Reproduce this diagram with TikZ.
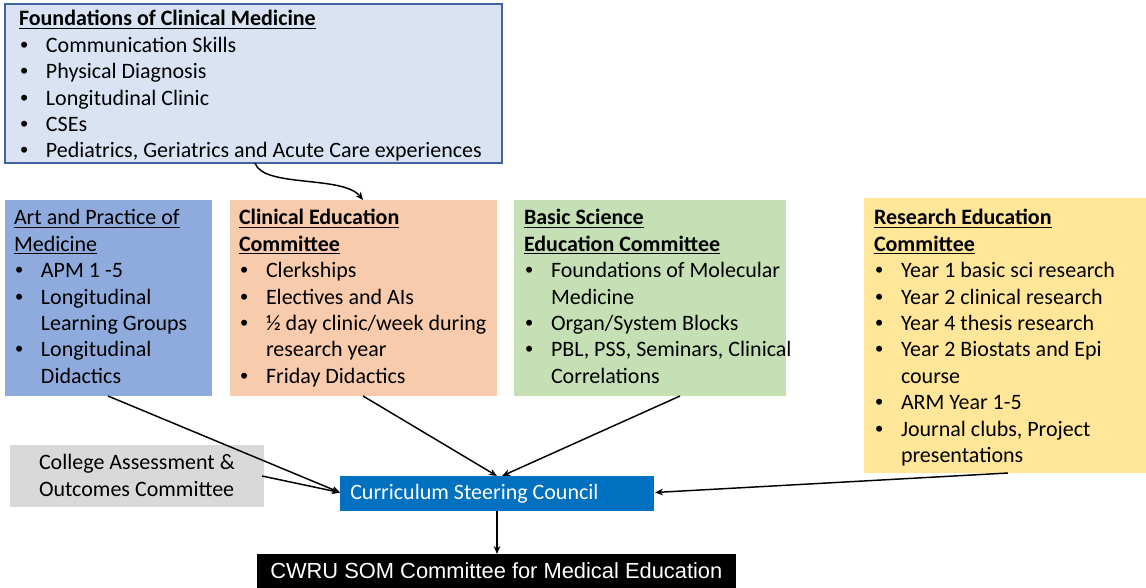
\documentclass[tikz,border=0pt]{standalone}
\usepackage{fontspec}
\setmainfont{Carlito}
\newfontfamily\arialf{Liberation Sans}
\usetikzlibrary{arrows.meta,calc}
\definecolor{fcmfill}{HTML}{DAE3F3}
\definecolor{fcmdraw}{HTML}{41649E}
\definecolor{apmfill}{HTML}{8FAADC}
\definecolor{cecfill}{HTML}{F8CBAD}
\definecolor{bsfill}{HTML}{C5E0B4}
\definecolor{refill}{HTML}{FFE699}
\definecolor{cafill}{HTML}{D9D9D9}
\definecolor{cscfill}{HTML}{0070C0}
\newcommand{\bl}[1]{\makebox[20.25pt][l]{\hspace*{1pt}{\arialf\textbullet}}#1}
\newcommand{\cl}[1]{\hspace*{20.25pt}#1}
\newcommand{\fs}{\fontsize{16.5}{19.8}\selectfont}
\begin{document}
\begin{tikzpicture}[x=0.75pt,y=-0.75pt,
  boxst/.style={rectangle,inner sep=0,outer sep=0,anchor=north west},
  txt/.style={inner sep=0,outer sep=0,anchor=north west,align=left,font=\fs},
  conn/.style={line width=1.1pt,-{Stealth[length=6pt,width=5pt]}}]
\useasboundingbox (0,0) rectangle (1146,588);
% boxes
\node[boxst,fill=fcmfill,draw=fcmdraw,line width=1pt,minimum width=372.75pt,minimum height=119.25pt] (fcm) at (5,4) {};
\node[boxst,fill=apmfill,minimum width=155.25pt,minimum height=147pt] (apm) at (5,200) {};
\node[boxst,fill=cecfill,minimum width=200.25pt,minimum height=147pt] (cec) at (230,200) {};
\node[boxst,fill=bsfill,minimum width=204pt,minimum height=147pt] (bs) at (514,200) {};
\node[boxst,fill=refill,minimum width=211.5pt,minimum height=206.25pt] (re) at (864,198) {};
\node[boxst,fill=cafill,minimum width=190.5pt,minimum height=46.5pt] (ca) at (10,445) {};
\node[boxst,fill=cscfill,minimum width=235.5pt,minimum height=26.25pt] (csc) at (340,476) {};
\node[boxst,fill=black,minimum width=359.25pt,minimum height=25.5pt] (cwru) at (257,554) {};
% texts
\node[txt] (fcmt) at (19,7.5) {\strut\textbf{\underline{Foundations of Clinical Medicine}}\\
\bl{Communication Skills}\\
\bl{Physical Diagnosis}\\
\bl{Longitudinal Clinic}\\
\bl{CSEs}\\
\bl{Pediatrics, Geriatrics and Acute Care experiences}};
\node[txt] (apmt) at (14,206.5) {\strut\underline{Art and Practice of}\\
\underline{Medicine}\\
\bl{APM 1 -5}\\
\bl{Longitudinal}\\
\cl{Learning Groups}\\
\bl{Longitudinal}\\
\cl{Didactics}};
\node[txt] (cect) at (239,206.5) {\strut\textbf{\underline{Clinical Education}}\\
\textbf{\underline{Committee}}\\
\bl{Clerkships}\\
\bl{Electives and AIs}\\
\bl{½ day clinic/week during}\\
\cl{research year}\\
\bl{Friday Didactics}};
\node[txt] (bst) at (524,206.5) {\strut\textbf{\underline{Basic Science}}\\
\textbf{\underline{Education Committee}}\\
\bl{Foundations of Molecular}\\
\cl{Medicine}\\
\bl{Organ/System Blocks}\\
\bl{PBL, PSS, Seminars, Clinical}\\
\cl{Correlations}};
\node[txt] (ret) at (874,206.5) {\strut\textbf{\underline{Research Education}}\\
\textbf{\underline{Committee}}\\
\bl{Year 1 basic sci research}\\
\bl{Year 2 clinical research}\\
\bl{Year 4 thesis research}\\
\bl{Year 2 Biostats and Epi}\\
\cl{course}\\
\bl{ARM Year 1-5}\\
\bl{Journal clubs, Project}\\
\cl{presentations}};
\node[txt] (cat) at (39,451.5) {\strut College Assessment \&\\Outcomes Committee};
\node[inner sep=0,anchor=base west,font=\fs,text=white] (csct) at (350,499) {Curriculum Steering Council};
\node[inner sep=0,anchor=base west,font=\arialf\fontsize{16.4}{18}\selectfont,text=white] (cwrut) at (270,578.5) {CWRU SOM Committee for Medical Education};
% connectors
\coordinate (c1) at ($(fcm.south west)+(250,0)$);
\coordinate (c2) at ($(cec.north west)+(133,0)$);
\draw[conn] (c1) .. controls ($(c1)+(8,25)$) and ($(c2)+(-20,-25)$) .. (c2);
\draw[conn] ($(apm.south west)+(103,0)$) -- ($(csc.west)+(0,-1)$);
\draw[conn] ($(ca.east)+(-2,0)$) -- ($(csc.west)+(0,-1)$);
\draw[conn] ($(cec.south west)+(133,0)$) -- ($(csc.north west)+(157,0)$);
\draw[conn] ($(bs.south west)+(166,0)$) -- ($(csc.north west)+(162,0)$);
\draw[conn] ($(re.south west)+(144,0)$) -- ($(csc.east)+(1,-1)$);
\draw[conn] ($(csc.south west)+(157,0)$) -- ($(cwru.north west)+(240,0)$);
\end{tikzpicture}
\end{document}
